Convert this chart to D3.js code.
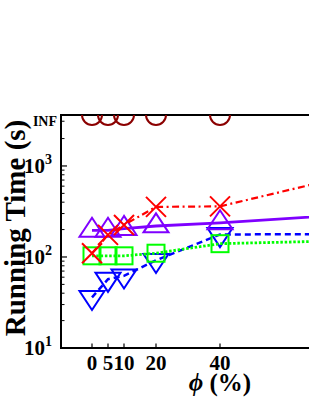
<!DOCTYPE html>
<html>
<head>
<meta charset="utf-8">
<script src="https://cdn.jsdelivr.net/npm/d3@7"></script>
<style>
  body { margin: 0; background: #fff; }
  svg { display: block; font-family: "Liberation Serif", "DejaVu Serif", serif; font-weight: bold; }
</style>
</head>
<body>
<div id="chart"></div>
<script>
// phi (%) values, last point lies past the visible edge
const phis = [0, 5, 10, 20, 40, 100];
const xTicks = [0, 5, 10, 20, 40];

// running time (s) per method
const redTimes = [110, 175, 225, 355, 360, 1140];
const purpleTimes = [196, 196, 205, 219, 237, 325];
const blueTimes = [36, 57, 62, 92, 177, 178];
const greenTimes = [103, 103, 103, 110, 140, 157];
const infPhis = [0, 5, 10, 20, 40];

const majorTicks = [10, 100, 1000];
const minorTicks = [20, 30, 40, 50, 60, 70, 80, 90, 200, 300, 400, 500, 600, 700, 800, 900, 2000];
const infValue = 3100;
const yTop = 3630;

const width = 309, height = 400;
const plotLeft = 61, plotTop = 115, plotBottom = 348;

const svg = d3.select('#chart').append('svg')
    .attr('width', width)
    .attr('height', height);

const x = d3.scaleLinear().domain([-10, 110]).range([plotLeft - 1, plotLeft - 1 + 384]);
const y = d3.scaleLog().domain([10, yTop]).range([plotBottom, plotTop]);

svg.append('defs').append('clipPath')
    .attr('id', 'plot-clip')
    .append('rect')
    .attr('x', plotLeft).attr('y', plotTop)
    .attr('width', 400).attr('height', plotBottom - plotTop);

/* Axes frame */
const axisG = svg.append('g').attr('class', 'axes');
axisG.append('line')
    .attr('x1', plotLeft).attr('x2', plotLeft)
    .attr('y1', plotTop - 1).attr('y2', plotBottom + 1)
    .attr('stroke', 'black').attr('stroke-width', 2);
axisG.append('line')
    .attr('x1', plotLeft - 1).attr('x2', width)
    .attr('y1', plotBottom).attr('y2', plotBottom)
    .attr('stroke', 'black').attr('stroke-width', 2);
axisG.append('line')
    .attr('x1', plotLeft - 1).attr('x2', width)
    .attr('y1', plotTop).attr('y2', plotTop)
    .attr('stroke', 'black').attr('stroke-width', 2);

/* Y ticks, inward */
axisG.selectAll('.y-major').data(majorTicks).enter().append('line')
    .attr('x1', plotLeft).attr('x2', plotLeft + 6)
    .attr('y1', d => y(d)).attr('y2', d => y(d))
    .attr('stroke', 'black').attr('stroke-width', 1.2);
axisG.selectAll('.y-minor').data(minorTicks.concat([infValue])).enter().append('line')
    .attr('x1', plotLeft).attr('x2', plotLeft + 3.5)
    .attr('y1', d => y(d)).attr('y2', d => y(d))
    .attr('stroke', 'black').attr('stroke-width', 1);

const yLabels = axisG.selectAll('.y-label').data(majorTicks).enter().append('text')
    .attr('x', 52).attr('y', d => y(d) + 7)
    .attr('text-anchor', 'end')
    .attr('font-size', 21);
yLabels.append('tspan').text('10');
yLabels.append('tspan')
    .attr('font-size', 14).attr('dy', -9)
    .text(d => Math.round(Math.log10(d)));

axisG.append('text')
    .attr('x', 57).attr('y', y(infValue) + 4.5)
    .attr('text-anchor', 'end')
    .attr('font-size', 14)
    .text('INF');

/* X ticks, inward */
axisG.selectAll('.x-tick').data(xTicks).enter().append('line')
    .attr('x1', d => x(d)).attr('x2', d => x(d))
    .attr('y1', plotBottom).attr('y2', plotBottom - 4.5)
    .attr('stroke', 'black').attr('stroke-width', 1.2);
axisG.selectAll('.x-label').data(xTicks).enter().append('text')
    .attr('x', d => x(d)).attr('y', 370)
    .attr('text-anchor', 'middle')
    .attr('font-size', 21)
    .text(d => d);

/* Axis titles */
svg.append('text')
    .attr('transform', 'translate(25,228) rotate(-90)')
    .attr('text-anchor', 'middle')
    .attr('font-size', 29)
    .text('Running Time (s)');

const xTitle = svg.append('text')
    .attr('x', 220).attr('y', 391)
    .attr('text-anchor', 'middle')
    .attr('font-size', 25);
xTitle.append('tspan').attr('font-style', 'italic').text('ϕ');
xTitle.append('tspan').text(' (%)');

/* Data */
const dataG = svg.append('g').attr('clip-path', 'url(#plot-clip)');

function drawLine(values, color, dash, sw) {
  const line = d3.line().x((d, i) => x(phis[i])).y(d => y(d));
  dataG.append('path')
      .attr('d', line(values))
      .attr('fill', 'none')
      .attr('stroke', color)
      .attr('stroke-width', sw)
      .attr('stroke-dasharray', dash);
}

function triPath(cx, cy, up) {
  const hw = 12.5, h = 19;
  const s = up ? 1 : -1;
  const apex = cy - s * h * 2 / 3;
  const base = cy + s * h / 3;
  return `M${cx},${apex}L${cx - hw},${base}L${cx + hw},${base}Z`;
}

/* Blue dashed, triangle down */
drawLine(blueTimes, '#0000ff', '6,4', 2.5);
dataG.selectAll('.blue').data(blueTimes).enter().append('path')
    .attr('d', (d, i) => triPath(x(phis[i]), y(d), false))
    .attr('fill', 'none').attr('stroke', '#0000ff').attr('stroke-width', 2);

/* Green dotted, squares */
drawLine(greenTimes, '#00ff00', '2.5,1.8', 2.8);
dataG.selectAll('.green').data(greenTimes).enter().append('rect')
    .attr('x', (d, i) => x(phis[i]) - 8.5)
    .attr('y', d => y(d) - 8.5)
    .attr('width', 17).attr('height', 17)
    .attr('fill', 'none').attr('stroke', '#00ff00').attr('stroke-width', 2);

/* Purple solid, triangle up */
drawLine(purpleTimes, '#7f00ff', null, 2.8);
dataG.selectAll('.purple').data(purpleTimes).enter().append('path')
    .attr('d', (d, i) => triPath(x(phis[i]), y(d), true))
    .attr('fill', 'none').attr('stroke', '#7f00ff').attr('stroke-width', 2);

/* Red dash-dot, crosses */
drawLine(redTimes, '#ff0000', '7,3.5,2,3.5', 2.2);
dataG.selectAll('.red').data(redTimes).enter().append('path')
    .attr('d', (d, i) => {
      const cx = x(phis[i]), cy = y(d), r = 10;
      return `M${cx - r},${cy - r}L${cx + r},${cy + r}M${cx - r},${cy + r}L${cx + r},${cy - r}`;
    })
    .attr('fill', 'none').attr('stroke', '#ff0000').attr('stroke-width', 2);

/* INF circles at the top edge */
dataG.selectAll('.inf').data(infPhis).enter().append('circle')
    .attr('cx', d => x(d))
    .attr('cy', y(yTop))
    .attr('r', 10)
    .attr('fill', 'none').attr('stroke', '#8b0000').attr('stroke-width', 2);
</script>
</body>
</html>
